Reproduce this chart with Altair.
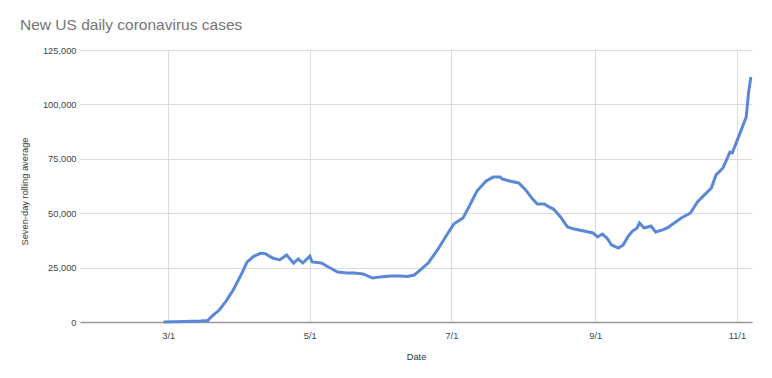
import altair as alt
import pandas as pd

dates = [
    "2020-02-28", "2020-03-08", "2020-03-15", "2020-03-18", "2020-03-20", "2020-03-23",
    "2020-03-26", "2020-03-29", "2020-03-31", "2020-04-02", "2020-04-04", "2020-04-07",
    "2020-04-10", "2020-04-12", "2020-04-15", "2020-04-18", "2020-04-21", "2020-04-24",
    "2020-04-26", "2020-04-28", "2020-05-01", "2020-05-02", "2020-05-06", "2020-05-09",
    "2020-05-13", "2020-05-17", "2020-05-20", "2020-05-24", "2020-05-28", "2020-05-31",
    "2020-06-05", "2020-06-09", "2020-06-12", "2020-06-15", "2020-06-17", "2020-06-21",
    "2020-06-25", "2020-06-29", "2020-07-02", "2020-07-06", "2020-07-09", "2020-07-12",
    "2020-07-16", "2020-07-19", "2020-07-22", "2020-07-23", "2020-07-26", "2020-07-30",
    "2020-08-02", "2020-08-05", "2020-08-07", "2020-08-10", "2020-08-12", "2020-08-14",
    "2020-08-17", "2020-08-20", "2020-08-23", "2020-08-27", "2020-08-31", "2020-09-02",
    "2020-09-04", "2020-09-06", "2020-09-08", "2020-09-11", "2020-09-13", "2020-09-15",
    "2020-09-17", "2020-09-19", "2020-09-20", "2020-09-22", "2020-09-25", "2020-09-27",
    "2020-09-30", "2020-10-02", "2020-10-05", "2020-10-08", "2020-10-12", "2020-10-15",
    "2020-10-18", "2020-10-21", "2020-10-23", "2020-10-26", "2020-10-29", "2020-10-30",
    "2020-11-02", "2020-11-05", "2020-11-06", "2020-11-07",
]
cases = [
    0, 200, 500, 700, 2800, 5500,
    9700, 14700, 18800, 23000, 27600, 30300,
    31700, 31300, 29400, 28500, 30800, 27100,
    29000, 27100, 30300, 27600, 27100, 25300,
    23000, 22500, 22500, 22100, 20200, 20700,
    21100, 21100, 20900, 21600, 23400, 27100,
    33100, 40000, 45000, 47800, 53800, 60200,
    64800, 66600, 66600, 65700, 64800, 63900,
    60700, 56500, 54200, 54200, 52900, 51900,
    48300, 43700, 42700, 41800, 40900, 39100,
    40400, 38600, 35400, 34000, 35400, 39100,
    41800, 43200, 45500, 43200, 44100, 41400,
    42300, 43200, 45500, 47800, 50100, 55200,
    58400, 61600, 67600, 70800, 78100, 77700,
    85900, 94200, 105200, 112600,
]
x_ticks = ["2020-03-01", "2020-05-01", "2020-07-01", "2020-09-01", "2020-11-01"]
y_ticks = [0, 25000, 50000, 75000, 100000, 125000]

df = pd.DataFrame({"date": dates, "cases": cases})

FONT = "Liberation Sans"

chart = (
    alt.Chart(df)
    .mark_line(color="#5b87d9", strokeWidth=3)
    .encode(
        x=alt.X(
            "date:T",
            scale=alt.Scale(type="utc", domain=["2020-01-23T00:00:00Z", "2020-11-07T12:00:00Z"]),
            axis=alt.Axis(
                title="Date",
                values=x_ticks,
                format="%-m/%-d",
                grid=True,
                gridColor="#dcdcdc",
                ticks=False,
                domainColor="#999999",
                domainWidth=1.5,
                labelPadding=9,
                labelFontSize=9.3,
                labelColor="#444444",
                labelFont=FONT,
                titleFont=FONT,
                titleFontSize=9.3,
                titleFontWeight="normal",
                titleColor="#333333",
                titleBaseline="middle",
                titleY=34,
            ),
        ),
        y=alt.Y(
            "cases:Q",
            scale=alt.Scale(domain=[0, 125000], nice=False),
            axis=alt.Axis(
                title="Seven-day rolling average",
                values=y_ticks,
                format=",d",
                grid=True,
                gridColor="#dcdcdc",
                ticks=False,
                domain=False,
                labelPadding=4,
                labelFontSize=9.3,
                labelColor="#444444",
                labelFont=FONT,
                titleFont=FONT,
                titleFontSize=9.3,
                titleFontWeight="normal",
                titleColor="#333333",
                titleBaseline="middle",
                titleX=-56,
                titleY=141,
            ),
        ),
    )
    .properties(
        width=672,
        height=272,
        autosize=alt.AutoSizeParams(type="none"),
        padding={"left": 80, "top": 50, "right": 20, "bottom": 56},
        title=alt.TitleParams(
            "New US daily coronavirus cases",
            anchor="start",
            dx=0,
            offset=1,
            fontSize=15.5,
            font=FONT,
            fontWeight="normal",
            color="#757575",
            baseline="alphabetic",
        ),
    )
    .configure_view(stroke=None)
)

chart.save("out.html", embed_options={"renderer": "svg", "actions": False})
